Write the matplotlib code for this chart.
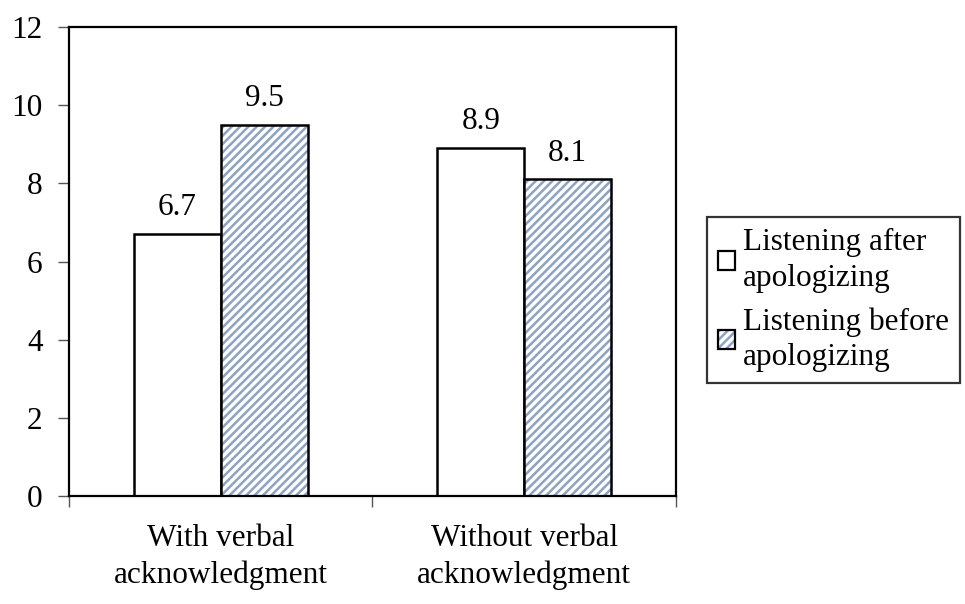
import matplotlib.pyplot as plt
import numpy as np
from matplotlib.patches import Patch

plt.rcParams['font.family'] = ['Liberation Serif', 'DejaVu Serif']
plt.rcParams['hatch.linewidth'] = 1.8

categories = ['With verbal\nacknowledgment', 'Without verbal\nacknowledgment']
series_names = ['Listening after\napologizing', 'Listening before\napologizing']
after_values = [6.7, 8.9]
before_values = [9.5, 8.1]

stripe_color = '#8ea3c1'
fs = 22.5


def plot_bars():
    fig = plt.figure(figsize=(9.65, 6.04), dpi=100)
    ax = fig.add_axes([0.0715, 0.1788, 0.629, 0.7765])

    x = np.arange(len(categories))
    width = 0.286

    ax.bar(x - width / 2, after_values, width, color='white', edgecolor='black', linewidth=1.8)
    # hatched fill first, then a black outline on top
    ax.bar(x + width / 2, before_values, width, color='white', edgecolor=stripe_color,
           hatch='////', linewidth=0)
    ax.bar(x + width / 2, before_values, width, fill=False, edgecolor='black', linewidth=1.8)

    for xi, v in zip(x - width / 2, after_values):
        ax.text(xi, v + 0.3, f'{v}', ha='center', va='bottom', fontsize=fs)
    for xi, v in zip(x + width / 2, before_values):
        ax.text(xi, v + 0.3, f'{v}', ha='center', va='bottom', fontsize=fs)

    ax.set_xlim(-0.5, 1.5)
    ax.set_ylim(0, 12)
    ax.set_yticks(range(0, 13, 2))
    ax.set_yticklabels([str(t) for t in range(0, 13, 2)], fontsize=fs)
    ax.set_xticks(x)
    ax.set_xticklabels(categories, fontsize=fs, linespacing=1.35)
    ax.tick_params(axis='x', length=0, pad=20)
    ax.set_xticks([-0.5, 0.5, 1.5], minor=True)
    ax.tick_params(axis='x', which='minor', length=8, width=1.0, color='#555555', direction='out')
    ax.tick_params(axis='y', length=8, width=1.0, color='#555555', direction='out', pad=11)

    for spine in ax.spines.values():
        spine.set_linewidth(1.6)
        spine.set_color('black')

    h1 = Patch(facecolor='white', edgecolor='black', linewidth=1.6)
    h2a = Patch(facecolor='white', edgecolor=stripe_color, hatch='////', linewidth=0)
    h2b = Patch(fill=False, edgecolor='black', linewidth=1.6)
    leg = fig.legend([h1, (h2a, h2b)], series_names, loc='upper left',
                     bbox_to_anchor=(0.733, 0.64), fontsize=fs, frameon=True,
                     fancybox=False, edgecolor='black', handlelength=0.55,
                     handleheight=0.55, handletextpad=0.25, borderpad=0.35,
                     labelspacing=0.45, borderaxespad=0)
    for t in leg.get_texts():
        t.set_linespacing(1.3)
    leg.get_frame().set_linewidth(1.6)

    fig.savefig('out.png', dpi=100)


if __name__ == '__main__':
    plot_bars()
